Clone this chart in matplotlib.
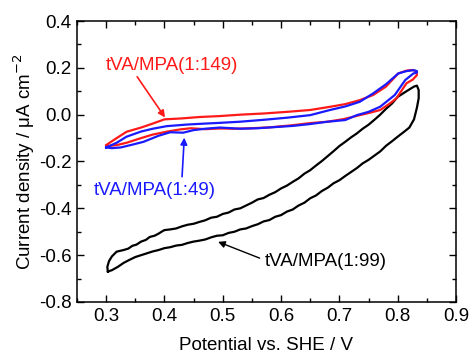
import matplotlib
matplotlib.use("Agg")
import matplotlib.pyplot as plt
from matplotlib.ticker import MultipleLocator

plt.rcParams['font.family'] = ['Liberation Sans', 'DejaVu Sans']

# tVA/MPA(1:149) - red
red_x = [0.300, 0.315, 0.335, 0.360, 0.380, 0.400, 0.430, 0.460, 0.495, 0.530, 0.570, 0.610, 0.650, 0.685, 0.710,
         0.735, 0.758, 0.780, 0.801, 0.815, 0.826, 0.832,
         0.833, 0.826, 0.815, 0.798, 0.785, 0.770, 0.752, 0.735, 0.707, 0.680, 0.650, 0.620, 0.581, 0.550,
         0.520, 0.495, 0.470, 0.445, 0.427, 0.405, 0.380, 0.360, 0.335, 0.318, 0.300]
red_y = [-0.130, -0.105, -0.073, -0.055, -0.038, -0.020, -0.016, -0.010, -0.006, 0.000, 0.005, 0.012, 0.020, 0.034, 0.045,
         0.062, 0.084, 0.120, 0.176, 0.188, 0.191, 0.185,
         0.169, 0.150, 0.134, 0.070, 0.045, 0.020, 0.008, -0.002, -0.019, -0.030, -0.036, -0.045, -0.054, -0.058,
         -0.060, -0.059, -0.062, -0.058, -0.063, -0.072, -0.085, -0.100, -0.120, -0.130, -0.135]

# tVA/MPA(1:49) - blue
blue_x = [0.300, 0.318, 0.335, 0.360, 0.380, 0.404, 0.440, 0.470, 0.495, 0.530, 0.570, 0.610, 0.650, 0.684, 0.710,
          0.735, 0.758, 0.780, 0.801, 0.815, 0.827, 0.833,
          0.833, 0.827, 0.813, 0.795, 0.770, 0.750, 0.730, 0.710, 0.680, 0.650, 0.620, 0.590, 0.560, 0.530,
          0.495, 0.470, 0.450, 0.432, 0.410, 0.390, 0.364, 0.345, 0.325, 0.310, 0.300]
blue_y = [-0.140, -0.120, -0.094, -0.072, -0.060, -0.049, -0.042, -0.038, -0.035, -0.030, -0.022, -0.013, -0.002, 0.020, 0.035,
          0.055, 0.091, 0.130, 0.176, 0.186, 0.190, 0.186,
          0.180, 0.176, 0.148, 0.084, 0.034, 0.012, -0.002, -0.023, -0.030, -0.040, -0.048, -0.053, -0.058, -0.060,
          -0.055, -0.060, -0.066, -0.077, -0.075, -0.090, -0.116, -0.128, -0.140, -0.143, -0.140]

# tVA/MPA(1:99) - black
black_x = [0.303, 0.302, 0.305, 0.310, 0.318, 0.330, 0.338, 0.345, 0.352, 0.360, 0.368, 0.375, 0.383, 0.390, 0.395,
           0.400, 0.410, 0.420, 0.430, 0.440, 0.450, 0.460, 0.470,
           0.480, 0.490, 0.500, 0.510, 0.520, 0.530, 0.540, 0.550, 0.560, 0.570, 0.580, 0.590, 0.600, 0.610,
           0.620, 0.630, 0.640, 0.650, 0.660, 0.670, 0.680, 0.690, 0.700, 0.710, 0.720, 0.730, 0.740, 0.750,
           0.760, 0.770, 0.780, 0.790, 0.800, 0.815, 0.828, 0.833, 0.836, 0.836, 0.833, 0.828, 0.820,
           0.810, 0.800, 0.790, 0.780, 0.770, 0.760, 0.750, 0.740, 0.730, 0.720, 0.710, 0.700, 0.690, 0.680,
           0.670, 0.660, 0.650, 0.640, 0.630, 0.620, 0.610, 0.600, 0.590, 0.580, 0.570, 0.560,
           0.550, 0.540, 0.530, 0.520, 0.510, 0.500, 0.490, 0.480, 0.470, 0.460, 0.450, 0.440, 0.430, 0.420,
           0.410, 0.400, 0.390, 0.380, 0.370, 0.360, 0.350, 0.340, 0.330, 0.320, 0.310, 0.303]
black_y = [-0.670, -0.650, -0.625, -0.605, -0.585, -0.578, -0.572, -0.560, -0.555, -0.542, -0.535, -0.522, -0.517, -0.508, -0.500,
           -0.493, -0.490, -0.486, -0.477, -0.470, -0.466, -0.458, -0.451,
           -0.440, -0.436, -0.424, -0.418, -0.405, -0.400, -0.388, -0.376, -0.362, -0.356, -0.342, -0.331, -0.315, -0.303,
           -0.287, -0.272, -0.252, -0.237, -0.217, -0.198, -0.177, -0.156, -0.134, -0.116, -0.097, -0.080, -0.060, -0.043,
           -0.022, 0.000, 0.025, 0.047, 0.076, 0.100, 0.120, 0.124, 0.105, 0.070, 0.030, -0.020, -0.055,
           -0.075, -0.094, -0.114, -0.133, -0.157, -0.175, -0.193, -0.208, -0.228, -0.245, -0.262, -0.280, -0.293, -0.312,
           -0.326, -0.345, -0.357, -0.376, -0.388, -0.405, -0.414, -0.429, -0.436, -0.450, -0.456, -0.468,
           -0.476, -0.486, -0.490, -0.500, -0.505, -0.515, -0.517, -0.524, -0.533, -0.538, -0.542, -0.548, -0.556, -0.559,
           -0.566, -0.570, -0.578, -0.584, -0.592, -0.600, -0.608, -0.620, -0.633, -0.650, -0.664, -0.670]

fig = plt.figure(figsize=(4.70, 3.56), dpi=100)
ax = fig.add_axes([0.1638, 0.1517, 0.8064, 0.7893])

ax.plot(black_x, black_y, color='black', lw=1.6)
ax.plot(red_x, red_y, color='#ff1a1a', lw=1.6)
ax.plot(blue_x, blue_y, color='#1a1aff', lw=1.6)

FS = 13.5
ax.set_xlim(0.25, 0.9)
ax.set_ylim(-0.8, 0.4)
ax.xaxis.set_minor_locator(MultipleLocator(0.05))
ax.yaxis.set_minor_locator(MultipleLocator(0.1))
xt = [0.3, 0.4, 0.5, 0.6, 0.7, 0.8, 0.9]
ax.set_xticks(xt)
ax.set_xticklabels([f"{v:.1f}" for v in xt])
yt = [-0.8, -0.6, -0.4, -0.2, 0.0, 0.2, 0.4]
ax.set_yticks(yt)
ax.set_yticklabels([f"{v:.1f}" for v in yt])
ax.tick_params(which='both', direction='in', top=True, right=True, labelsize=FS, width=1)
ax.tick_params(which='major', length=5, pad=4)
ax.tick_params(which='minor', length=3)
for s in ax.spines.values():
    s.set_linewidth(1.1)

ax.set_xlabel('Potential vs. SHE / V', fontsize=FS, labelpad=9)
ax.set_ylabel('Current density / μA cm$^{-2}$', fontsize=FS, labelpad=1)

ax.annotate('tVA/MPA(1:149)', xy=(0.401, -0.012), xytext=(0.30, 0.21), color='#ff1a1a', fontsize=FS,
            ha='left', va='center',
            arrowprops=dict(arrowstyle='-|>', color='#ff1a1a', lw=1.2, mutation_scale=10, shrinkA=0, shrinkB=0,
                            relpos=(0.22, 0.0)))
ax.annotate('tVA/MPA(1:49)', xy=(0.434, -0.098), xytext=(0.279, -0.325), color='#1a1aff', fontsize=FS,
            ha='left', va='center',
            arrowprops=dict(arrowstyle='-|>', color='#1a1aff', lw=1.2, mutation_scale=10, shrinkA=2, shrinkB=0,
                            relpos=(0.72, 1.0)))
ax.annotate('tVA/MPA(1:99)', xy=(0.492, -0.543), xytext=(0.5725, -0.629), color='black', fontsize=FS,
            ha='left', va='center',
            arrowprops=dict(arrowstyle='-|>', color='black', lw=1.0, mutation_scale=10, shrinkA=2, shrinkB=0,
                            relpos=(0.0, 0.6)))

fig.savefig('out.png', dpi=100)
